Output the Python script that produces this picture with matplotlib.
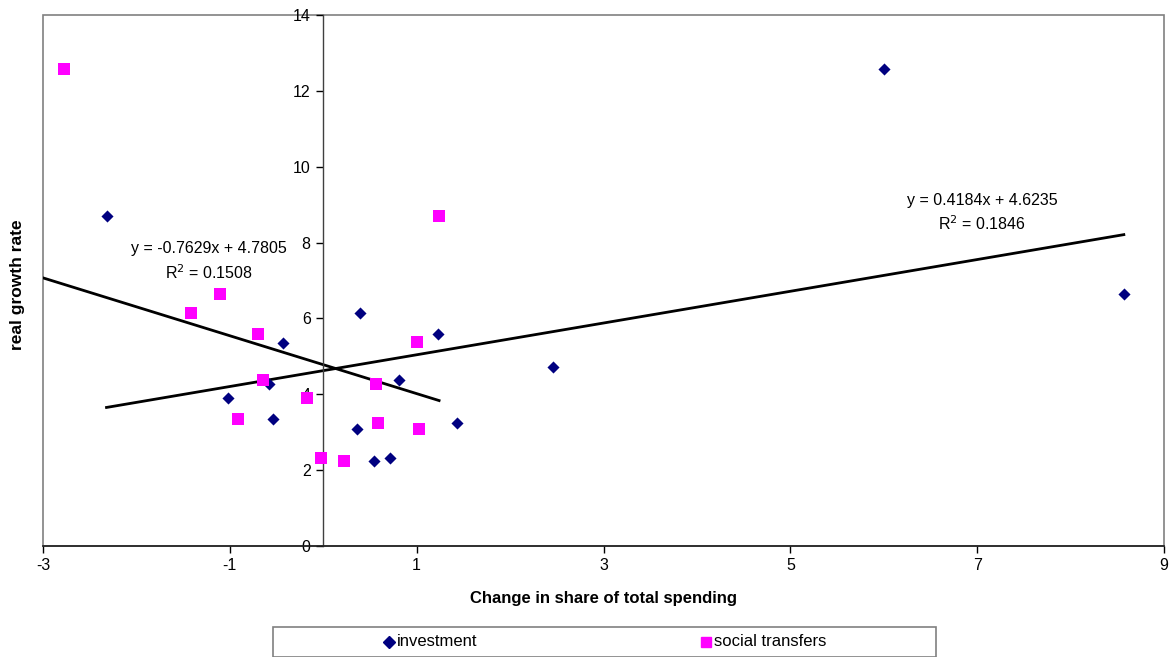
import matplotlib
matplotlib.use("Agg")
import matplotlib.pyplot as plt
from matplotlib.patches import Rectangle
from matplotlib.lines import Line2D
import numpy as np

plt.rcParams['font.family'] = ['Liberation Sans', 'DejaVu Sans']
plt.rcParams['axes.unicode_minus'] = False

# Investment (navy diamonds)
inv_x = [-2.32, -1.02, -0.58, -0.54, -0.43, 0.39, 0.36, 0.54, 0.71, 0.81, 1.23, 1.43, 2.46, 6.00, 8.57]
inv_y = [8.70, 3.90, 4.26, 3.34, 5.36, 6.13, 3.08, 2.24, 2.32, 4.38, 5.59, 3.24, 4.72, 12.57, 6.64]

# Social transfers (magenta squares)
soc_x = [-2.77, -1.42, -1.11, -0.91, -0.70, -0.64, -0.17, -0.02, 0.22, 0.57, 0.59, 1.00, 1.02, 1.24]
soc_y = [12.58, 6.14, 6.64, 3.34, 5.59, 4.38, 3.89, 2.32, 2.24, 4.26, 3.24, 5.37, 3.09, 8.70]

# Trendline coefficients (slope, intercept, R^2) as shown on the chart
inv_fit = [0.4184, 4.6235, 0.1846]
soc_fit = [-0.7629, 4.7805, 0.1508]

x_ticks = [-3, -1, 1, 3, 5, 7, 9]
y_ticks = [0, 2, 4, 6, 8, 10, 12, 14]

fig = plt.figure(figsize=(11.71, 6.57), dpi=100)
ax = fig.add_axes([43/1171, 1-546/657, (1164-43)/1171, (546-15)/657])
ax.set_xlim(-3, 9)
ax.set_ylim(0, 14)

# plot-area frame (gray)
ax.add_patch(Rectangle((0, 0), 1, 1, transform=ax.transAxes, fill=False,
                       edgecolor='#808080', lw=1.2, clip_on=False, zorder=0))
for s in ['top', 'right']:
    ax.spines[s].set_visible(False)
ax.spines['left'].set_position(('data', 0))
ax.spines['left'].set_color('#404040')
ax.spines['bottom'].set_color('#202020')
ax.spines['left'].set_linewidth(1.0)
ax.spines['bottom'].set_linewidth(1.2)

ax.set_xticks(x_ticks)
ax.set_yticks(y_ticks)
ax.tick_params(axis='both', direction='out', length=5, width=1, colors='black',
               labelsize=11.5, pad=4)

# trendlines
xi = np.array([min(inv_x), max(inv_x)])
ax.plot(xi, inv_fit[0]*xi + inv_fit[1], color='black', lw=2.0, zorder=2)
xs = np.array([-3, max(soc_x)])
ax.plot(xs, soc_fit[0]*xs + soc_fit[1], color='black', lw=2.0, zorder=2)

ax.scatter(inv_x, inv_y, marker='D', s=38, color='#000080', zorder=3, linewidths=0)
ax.scatter(soc_x, soc_y, marker='s', s=70, color='#FF00FF', zorder=3, linewidths=0)

# equation labels
ax.text(-1.22, 7.85, f"y = {soc_fit[0]:.4f}x + {soc_fit[1]:.4f}", ha='center', va='center', fontsize=11.5)
ax.text(-1.22, 7.22, f"R$^2$ = {soc_fit[2]:.4f}", ha='center', va='center', fontsize=11.5)
ax.text(7.05, 9.11, f"y = {inv_fit[0]:.4f}x + {inv_fit[1]:.4f}", ha='center', va='center', fontsize=11.5)
ax.text(7.05, 8.50, f"R$^2$ = {inv_fit[2]:.4f}", ha='center', va='center', fontsize=11.5)

fig.text(604/1171, 1-599/657, "Change in share of total spending", ha='center', va='center',
         fontsize=12, fontweight='bold')
fig.text(18/1171, 1-285/657, "real growth rate", ha='center', va='center', rotation=90,
         fontsize=12.5, fontweight='bold')

# legend box
fig.patches.append(Rectangle((273/1171, 1-657/657), (936-273)/1171, 30/657,
                             transform=fig.transFigure, fill=False, edgecolor='#808080', lw=1.2))
fig.lines.append(Line2D([389/1171], [1-642/657], marker='D', ms=6, color='#000080',
                        linestyle='none', transform=fig.transFigure))
fig.text(397/1171, 1-642/657, "investment", ha='left', va='center', fontsize=12)
fig.lines.append(Line2D([706/1171], [1-642/657], marker='s', ms=7, color='#FF00FF',
                        linestyle='none', transform=fig.transFigure))
fig.text(714/1171, 1-642/657, "social transfers", ha='left', va='center', fontsize=12)

fig.savefig("out.png", dpi=100)
